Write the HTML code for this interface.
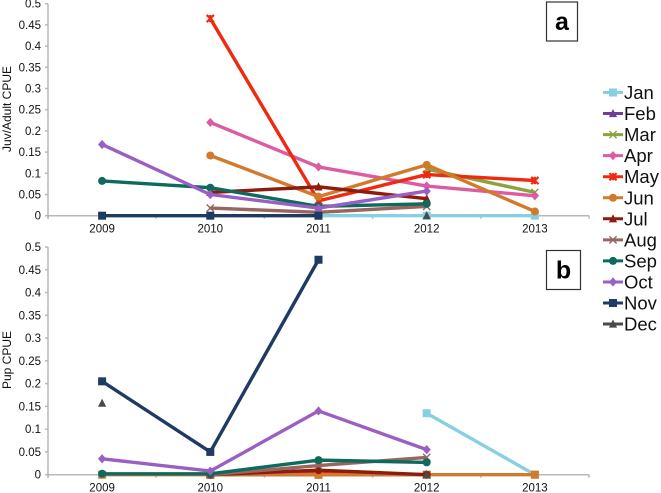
<!DOCTYPE html>
<html>
<head>
<meta charset="utf-8">
<title>CPUE by month</title>
<style>
html,body{margin:0;padding:0;background:#fff;}
svg{display:block;font-family:"Liberation Sans",sans-serif;filter:blur(0.35px);}
</style>
</head>
<body>
<svg id="chart" width="661" height="493" viewBox="0 0 661 493" xmlns="http://www.w3.org/2000/svg"></svg>
<script>
var years = [2009, 2010, 2011, 2012, 2013];
var yTicks = [0, 0.05, 0.1, 0.15, 0.2, 0.25, 0.3, 0.35, 0.4, 0.45, 0.5];
var yTickLabels = ['0', '0.05', '0.1', '0.15', '0.2', '0.25', '0.3', '0.35', '0.4', '0.45', '0.5'];
var months = ['Jan', 'Feb', 'Mar', 'Apr', 'May', 'Jun', 'Jul', 'Aug', 'Sep', 'Oct', 'Nov', 'Dec'];

var aJan = [null, null, 0, 0, 0];
var aFeb = [null, null, null, null, null];
var aMar = [null, null, null, 0.11, 0.055];
var aApr = [null, 0.22, 0.115, 0.07, 0.047];
var aMay = [null, 0.465, 0.035, 0.097, 0.083];
var aJun = [null, 0.142, 0.045, 0.12, 0.01];
var aJul = [null, 0.055, 0.068, 0.04, null];
var aAug = [null, 0.018, 0.008, 0.022, null];
var aSep = [0.082, 0.066, 0.022, 0.028, null];
var aOct = [0.168, 0.05, 0.018, 0.058, null];
var aNov = [0, 0, 0, null, null];
var aDec = [null, null, null, 0, null];

var bJan = [null, null, null, 0.135, 0];
var bFeb = [null, 0, 0, null, null];
var bMar = [null, 0, 0, 0, null];
var bApr = [null, 0, 0, 0, null];
var bMay = [null, 0, 0.005, 0, null];
var bJun = [0, 0, 0, 0, 0];
var bJul = [null, 0, 0.01, 0, null];
var bAug = [null, 0, 0.02, 0.038, null];
var bSep = [0.002, 0.002, 0.032, 0.027, null];
var bOct = [0.035, 0.008, 0.14, 0.055, null];
var bNov = [0.205, 0.05, 0.472, null, null];
var bDec = [0.157, null, null, 0, null];

var seriesA = [aJan, aFeb, aMar, aApr, aMay, aJun, aJul, aAug, aSep, aOct, aNov, aDec];
var seriesB = [bJan, bFeb, bMar, bApr, bMay, bJun, bJul, bAug, bSep, bOct, bNov, bDec];

var colors = ['#86d0e2', '#6e3f96', '#8aa33c', '#dc5ba1', '#ee2a10', '#d17a2c', '#8c1b10', '#96665f', '#0e6a5c', '#9a5fc2', '#1f3a63', '#4a4a4a'];
var shapesA = ['square', 'triangle', 'cross', 'diamond', 'star', 'circle', 'triangle', 'cross', 'circle', 'diamond', 'square', 'triangle'];
var shapesB = ['square', 'square', 'cross', 'diamond', 'star', 'square', 'circle', 'cross', 'circle', 'diamond', 'square', 'triangle'];

var NS = 'http://www.w3.org/2000/svg';
var svg = document.getElementById('chart');

function mk(tag, attrs, parent, text) {
  var e = document.createElementNS(NS, tag);
  for (var k in attrs) { e.setAttribute(k, attrs[k]); }
  if (text !== undefined) { e.textContent = text; }
  (parent || svg).appendChild(e);
  return e;
}

function marker(g, shape, x, y, color, r) {
  if (shape === 'square') {
    mk('rect', {x: x - r - 0.4, y: y - r - 0.4, width: 2 * r + 0.8, height: 2 * r + 0.8, fill: color}, g);
  } else if (shape === 'circle') {
    mk('circle', {cx: x, cy: y, r: r + 0.4, fill: color}, g);
  } else if (shape === 'diamond') {
    mk('polygon', {points: [x, y - r - 1, x + r + 0.5, y, x, y + r + 1, x - r - 0.5, y].join(' '), fill: color}, g);
  } else if (shape === 'triangle') {
    mk('polygon', {points: [x, y - r - 1, x + r + 0.5, y + r, x - r - 0.5, y + r].join(' '), fill: color}, g);
  } else {
    var d = 'M' + (x - r) + ' ' + (y - r) + 'L' + (x + r) + ' ' + (y + r) + 'M' + (x + r) + ' ' + (y - r) + 'L' + (x - r) + ' ' + (y + r);
    if (shape === 'star') { d += 'M' + x + ' ' + (y - r) + 'L' + x + ' ' + (y + r); }
    mk('path', {d: d, stroke: color, 'stroke-width': shape === 'star' ? 2.2 : 1.4, fill: 'none'}, g);
  }
}

var xLeft = 48, xRight = 589, xStep = 108.2;
function xScale(i) { return xLeft + xStep * (i + 0.5); }

function drawPanel(name, series, shapes, y0, y5, labelY, title, titleY) {
  var panel = mk('g', {});
  
  
  function yScale(v) { return y0 + (y5 - y0) * v / 0.5; }

  var axes = mk('g', {stroke: '#b8b8b8', 'stroke-width': 1.5, fill: 'none'}, panel);
  
  
  mk('line', {x1: xLeft, y1: yScale(0.5), x2: xLeft, y2: y0 + 3}, axes);
  mk('line', {x1: xLeft, y1: y0, x2: xRight, y2: y0}, axes);
  yTicks.forEach(function (t, i) {
    mk('line', {x1: xLeft - 3, y1: yScale(t), x2: xLeft, y2: yScale(t)}, axes);
    var lab = mk('text', {x: 41, y: yScale(t) + 4, 'text-anchor': 'end', 'font-size': 11.5, fill: '#111'}, panel, yTickLabels[i]);
    
    
  });
  for (var i = 0; i <= years.length; i++) {
    var tx = xLeft + xStep * i;
    mk('line', {x1: tx, y1: y0, x2: tx, y2: y0 + 3}, axes);
  }
  years.forEach(function (yr, i) {
    var lab = mk('text', {x: xScale(i), y: y0 + 17, 'text-anchor': 'middle', 'font-size': 11.5, fill: '#111'}, panel, String(yr));
    
    
  });
  var ttl = mk('text', {x: 0, y: 0, transform: 'translate(11,' + titleY + ') rotate(-90)', 'text-anchor': 'middle', 'font-size': 12, fill: '#111'}, panel, title);
  
  

  series.forEach(function (vals, s) {
    var g = mk('g', {}, panel);
    
    
    var seg = [];
    function flush() {
      if (seg.length > 1) {
        mk('polyline', {points: seg.join(' '), fill: 'none', stroke: colors[s], 'stroke-width': 3.4, 'stroke-linejoin': 'round'}, g);
      }
      seg = [];
    }
    vals.forEach(function (v, i) {
      if (v === null) { flush(); } else { seg.push(xScale(i) + ',' + yScale(v)); }
    });
    flush();
    vals.forEach(function (v, i) {
      if (v !== null) { marker(g, shapes[s], xScale(i), yScale(v), colors[s], 3.6); }
    });
  });

  var box = mk('g', {}, panel);
  
  
  var bw = name === 'a' ? 31 : 34;
  mk('rect', {x: 546.5, y: labelY, width: bw, height: 39, fill: '#fff', stroke: '#333', 'stroke-width': 1.2}, box);
  mk('text', {x: 546.5 + bw / 2, y: labelY + 28, 'text-anchor': 'middle', 'font-size': 25, 'font-weight': 'bold', fill: '#000'}, box, name);
}

drawPanel('a', seriesA, shapesA, 215.7, 3.7, 2, 'Juv/Adult CPUE', 109);
drawPanel('b', seriesB, shapesB, 474.7, 247, 250.5, 'Pup CPUE', 360);

var legend = mk('g', {});


months.forEach(function (m, i) {
  var y = 92.5 + i * 21.05;
  var g = mk('g', {}, legend);
  
  
  mk('line', {x1: 603, y1: y, x2: 623, y2: y, stroke: colors[i], 'stroke-width': 3}, g);
  marker(g, shapesA[i], 613, y, colors[i], 3.6);
  mk('text', {x: 624, y: y + 6.5, 'font-size': 18.5, fill: '#111'}, g, m);
});
</script>
</body>
</html>
